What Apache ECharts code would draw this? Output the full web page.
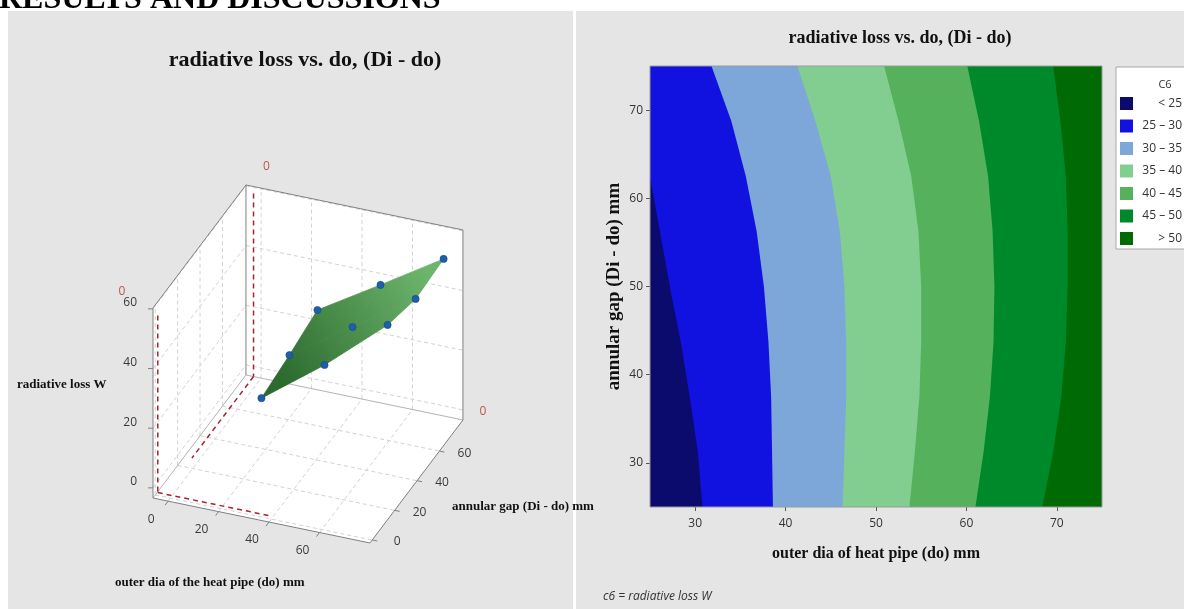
<!DOCTYPE html>
<html>
<head>
<meta charset="utf-8">
<script src="https://cdn.jsdelivr.net/npm/echarts@6/dist/echarts.min.js"></script>
<style>
html, body { margin: 0; padding: 0; background: #fff; }
#main { width: 1184px; height: 609px; }
</style>
</head>
<body>
<div id="main"></div>
<script>
// ---- left panel: 3D surface (radiative loss over do and Di - do) ----
var doPts = [25, 25, 25, 50, 50, 50, 75, 75, 75];
var gapPts = [25, 50, 75, 25, 50, 75, 25, 50, 75];
var lossPts = [22.1, 24.1, 26.8, 37.6, 37.9, 39.6, 55.4, 51.7, 52.7];
var boxTicks = [0, 20, 40, 60];

// ---- right panel: contour bands ----
var gapLevels = [25, 31.25, 37.5, 43.75, 50, 56.25, 62.5, 68.75, 75];
// do value of each contour line at the gap levels above
var line25 = [30.8, 30.3, 29.4, 28.4, 27.2, 26.1, 25.0, 25.0, 25.0];
var line30 = [38.6, 38.5, 38.4, 38.1, 37.6, 36.8, 35.6, 34.0, 31.8];
var line35 = [46.3, 46.5, 46.7, 46.7, 46.5, 46.0, 45.0, 43.3, 41.3];
var line40 = [53.7, 54.3, 54.8, 55.0, 55.0, 54.7, 53.9, 52.5, 50.9];
var line45 = [61.0, 61.9, 62.6, 63.0, 63.1, 62.9, 62.4, 61.4, 60.1];
var line50 = [68.4, 69.6, 70.5, 71.0, 71.2, 71.2, 71.0, 70.4, 69.6];
var bandNames = ['< 25', '25 – 30', '30 – 35', '35 – 40', '40 – 45', '45 – 50', '> 50'];
var bandColors = ['#0b0b6e', '#1212e0', '#7da7d9', '#82cd90', '#55b15b', '#00892a', '#006a04'];
var xTicks = [30, 40, 50, 60, 70];
var yTicks = [30, 40, 50, 60, 70];

var bandLines = [line25, line30, line35, line40, line45, line50, null];

var myChart = echarts.init(document.getElementById('main'));

// projection of the 3D box
var xr = [-6, 80], yr = [-2, 81], zr = [-3.4, 60.3];
var box = { x0: 153, y0: 498, ex: [2.523, 0.523], ey: [1.12, -1.482], ez: [0, -2.983] };
function proj(x, y, z) {
    var a = x - xr[0], b = y - yr[0], c = z - zr[0];
    return [box.x0 + a * box.ex[0] + b * box.ey[0] + c * box.ez[0],
            box.y0 + a * box.ex[1] + b * box.ey[1] + c * box.ez[1]];
}
function seg(p, q, color, dash, w) {
    return { type: 'line', shape: { x1: p[0], y1: p[1], x2: q[0], y2: q[1] },
        style: { stroke: color, lineWidth: w || 1, lineDash: dash || null } };
}
function txt(s, p, color, align, font) {
    return { type: 'text', style: { text: s, x: p[0], y: p[1], fill: color, align: align || 'center',
        verticalAlign: 'middle', font: font || '12px "Open Sans"' } };
}

function renderBox(params, api) {
    var X0 = xr[0], X1 = xr[1], Y0 = yr[0], Y1 = yr[1], Z0 = zr[0], Z1 = zr[1];
    var kids = [];
    var wall = { fill: '#ffffff', stroke: null };
    kids.push({ type: 'polygon', shape: { points: [proj(X0, Y0, Z0), proj(X0, Y1, Z0), proj(X0, Y1, Z1), proj(X0, Y0, Z1)] }, style: wall });
    kids.push({ type: 'polygon', shape: { points: [proj(X0, Y1, Z0), proj(X1, Y1, Z0), proj(X1, Y1, Z1), proj(X0, Y1, Z1)] }, style: wall });
    kids.push({ type: 'polygon', shape: { points: [proj(X0, Y0, Z0), proj(X1, Y0, Z0), proj(X1, Y1, Z0), proj(X0, Y1, Z0)] }, style: wall });
    var g = '#d2d2d2', d = [4, 3];
    boxTicks.forEach(function (t) {
        // back wall
        kids.push(seg(proj(t, Y1, Z0), proj(t, Y1, Z1), g, d));
        kids.push(seg(proj(X0, Y1, t), proj(X1, Y1, t), g, d));
        // left wall
        kids.push(seg(proj(X0, t, Z0), proj(X0, t, Z1), g, d));
        kids.push(seg(proj(X0, Y0, t), proj(X0, Y1, t), g, d));
        // floor
        kids.push(seg(proj(t, Y0, Z0), proj(t, Y1, Z0), g, d));
        kids.push(seg(proj(X0, t, Z0), proj(X1, t, Z0), g, d));
    });
    var e = '#808080', el = '#b4b4b4';
    kids.push(seg(proj(X0, Y1, Z0), proj(X1, Y1, Z0), el));
    kids.push(seg(proj(X0, Y0, Z0), proj(X0, Y1, Z0), el));
    kids.push(seg(proj(X0, Y0, Z0), proj(X0, Y0, Z1), e));
    kids.push(seg(proj(X0, Y0, Z1), proj(X0, Y1, Z1), e));
    kids.push(seg(proj(X0, Y1, Z0), proj(X0, Y1, Z1), e));
    kids.push(seg(proj(X0, Y1, Z1), proj(X1, Y1, Z1), e));
    kids.push(seg(proj(X1, Y1, Z0), proj(X1, Y1, Z1), e));
    kids.push(seg(proj(X0, Y0, Z0), proj(X1, Y0, Z0), e));
    kids.push(seg(proj(X1, Y0, Z0), proj(X1, Y1, Z0), e));
    // reference lines
    var r = '#a3262e', rd = [5, 4];
    kids.push(seg(proj(-3, Y1, 58), proj(-3, Y1, Z0), r, rd, 1.5));
    kids.push(seg(proj(-3, Y1, Z0), proj(-3, 26, Z0), r, rd, 1.5));
    kids.push(seg(proj(-5, 0, 57), proj(-5, 0, Z0 + 1), r, rd, 1.5));
    kids.push(seg(proj(-5, 0, Z0 + 1), proj(40, 0, Z0 + 1), r, rd, 1.5));
    // ticks and tick labels
    var lc = '#3a3a3a';
    boxTicks.forEach(function (t) {
        var pz = proj(X0, Y0, t);
        kids.push(seg(pz, [pz[0] - 5, pz[1]], e));
        kids.push(txt(String(t), [pz[0] - 16, pz[1] - 6], lc, 'right'));
        var px = proj(t, Y0, Z0);
        kids.push(seg(px, [px[0] - 3, px[1] + 4], e));
        kids.push(txt(String(t), [px[0] - 17, px[1] + 18], lc));
        var py = proj(X1, t, Z0);
        kids.push(seg(py, [py[0] + 5, py[1] + 1], e));
        kids.push(txt(String(t), [py[0] + 25, py[1] + 2], lc));
    });
    var rc = '#b85450';
    var a = proj(-3, Y1, Z1), b = proj(X0, Y0, Z1), c = proj(X1, Y1, Z0);
    kids.push(txt('0', [a[0] + 13, a[1] - 20], rc));
    kids.push(txt('0', [b[0] - 31, b[1] - 16], rc));
    kids.push(txt('0', [c[0] + 20, c[1] - 8], rc));
    var sf = 'bold 13px "Liberation Serif"';
    kids.push(txt('radiative loss W', [17, 385], '#111', 'left', sf));
    kids.push(txt('annular gap (Di - do) mm', [452, 507], '#111', 'left', sf));
    kids.push(txt('outer dia of the heat pipe (do) mm', [115, 583], '#111', 'left', sf));
    return { type: 'group', children: kids };
}

var surfaceFill = new echarts.graphic.LinearGradient(280, 380, 430, 280,
    [{ offset: 0, color: '#2c6a2e' }, { offset: 1, color: '#6cb46c' }], true);

function renderSurface(params, api) {
    var i = params.dataIndex;          // quad index 0..3
    var ci = Math.floor(i / 2), cj = i % 2;
    var idx = [ci * 3 + cj, (ci + 1) * 3 + cj, (ci + 1) * 3 + cj + 1, ci * 3 + cj + 1];
    var pts = idx.map(function (k) { return proj(doPts[k], gapPts[k], lossPts[k]); });
    return { type: 'polygon', shape: { points: pts },
        style: { fill: surfaceFill, stroke: surfaceFill, lineWidth: 0.8 } };
}

function renderPoint(params, api) {
    var k = params.dataIndex;
    var p = proj(doPts[k], gapPts[k], lossPts[k]);
    return { type: 'circle', shape: { cx: p[0], cy: p[1], r: 3.6 },
        style: { fill: '#1f5ea8', stroke: '#164a86', lineWidth: 0.6 } };
}

function bandRender(line) {
    return function (params, api) {
        var pts = [api.coord([25, gapLevels[0]])];
        for (var k = 0; k < gapLevels.length; k++) {
            pts.push(api.coord([line ? line[k] : 75, gapLevels[k]]));
        }
        pts.push(api.coord([25, gapLevels[gapLevels.length - 1]]));
        return { type: 'polygon', shape: { points: pts }, style: { fill: api.visual('color') } };
    };
}

var series = [
    { type: 'custom', name: 'box', coordinateSystem: 'none', data: [0], renderItem: renderBox, silent: true, z: 2 },
    { type: 'custom', name: 'surface', coordinateSystem: 'none', data: [0, 1, 2, 3], renderItem: renderSurface, silent: true, z: 3 },
    { type: 'custom', name: 'points', coordinateSystem: 'none', data: doPts, renderItem: renderPoint, silent: true, z: 4 }
];
bandNames.forEach(function (n, i) {
    series.push({
        type: 'custom', name: n, coordinateSystem: 'cartesian2d',
        data: [[25, 25]], renderItem: bandRender(bandLines[i]),
        itemStyle: { color: bandColors[i] }, silent: true, z: 20 - i
    });
});

var serif = '"Liberation Serif"';
myChart.setOption({
    animation: false,
    title: [
        { text: 'radiative loss vs. do, (Di - do)', left: 300, top: 44, textAlign: 'center',
          textStyle: { fontFamily: serif, fontWeight: 'bold', fontSize: 22, color: '#111' } },
        { text: 'radiative loss vs. do, (Di - do)', left: 895, top: 24, textAlign: 'center',
          textStyle: { fontFamily: serif, fontWeight: 'bold', fontSize: 18, color: '#111' } },
        { text: 'C6', left: 1160, top: 74, textAlign: 'center',
          textStyle: { fontFamily: 'Open Sans', fontWeight: 'normal', fontSize: 11, color: '#333' } }
    ],
    graphic: [
        { type: 'rect', z: -10, shape: { x: 8, y: 11, width: 565, height: 598 }, style: { fill: '#e5e5e5' } },
        { type: 'rect', z: -10, shape: { x: 576, y: 11, width: 608, height: 598 }, style: { fill: '#e5e5e5' } },
        { type: 'text', z: -20, style: { text: 'RESULTS AND DISCUSSIONS', x: -1, y: -16, verticalAlign: 'top',
            font: 'bold 32px "Liberation Serif"', fill: '#000' } },
        { type: 'text', z: 5, style: { text: 'c6 = radiative loss W', x: 603, y: 597, verticalAlign: 'middle',
            font: 'italic 12px "Open Sans"', fill: '#333' } },
        { type: 'rect', z: 50, shape: { x: 650, y: 66, width: 452, height: 441 },
          style: { fill: null, stroke: '#9a9a9a', lineWidth: 1 } }
    ],
    legend: {
        data: bandNames, orient: 'vertical', left: 1116, top: 67,
        padding: [30, 20, 4, 4], itemWidth: 13, itemHeight: 13, itemGap: 9.5, icon: 'rect',
        backgroundColor: '#fff', borderColor: '#a8a8a8', borderWidth: 1, selectedMode: false,
        formatter: function (n) { return '{a|' + n + '}'; },
        textStyle: { rich: { a: { width: 44, align: 'right', fontFamily: 'Open Sans', fontSize: 12, color: '#333' } } }
    },
    grid: { left: 650, top: 66, width: 452, height: 441 },
    xAxis: {
        type: 'value', min: 25, max: 75,
        name: 'outer dia of heat pipe (do) mm', nameLocation: 'middle', nameGap: 39,
        nameTextStyle: { fontFamily: serif, fontWeight: 'bold', fontSize: 16, color: '#111' },
        axisLine: { show: false }, splitLine: { show: false },
        axisTick: { show: true, customValues: xTicks, length: 4, lineStyle: { color: '#555' } },
        axisLabel: { customValues: xTicks, margin: 11, fontFamily: 'Open Sans', fontSize: 12, color: '#333' }
    },
    yAxis: {
        type: 'value', min: 25, max: 75,
        name: 'annular gap (Di - do) mm', nameLocation: 'middle', nameGap: 26, nameRotate: 90,
        nameTextStyle: { fontFamily: serif, fontWeight: 'bold', fontSize: 19, color: '#111' },
        axisLine: { show: false }, splitLine: { show: false },
        axisTick: { show: true, customValues: yTicks, length: 4, lineStyle: { color: '#555' } },
        axisLabel: { customValues: yTicks, margin: 7, fontFamily: 'Open Sans', fontSize: 12, color: '#333' }
    },
    series: series
});
</script>
</body>
</html>
